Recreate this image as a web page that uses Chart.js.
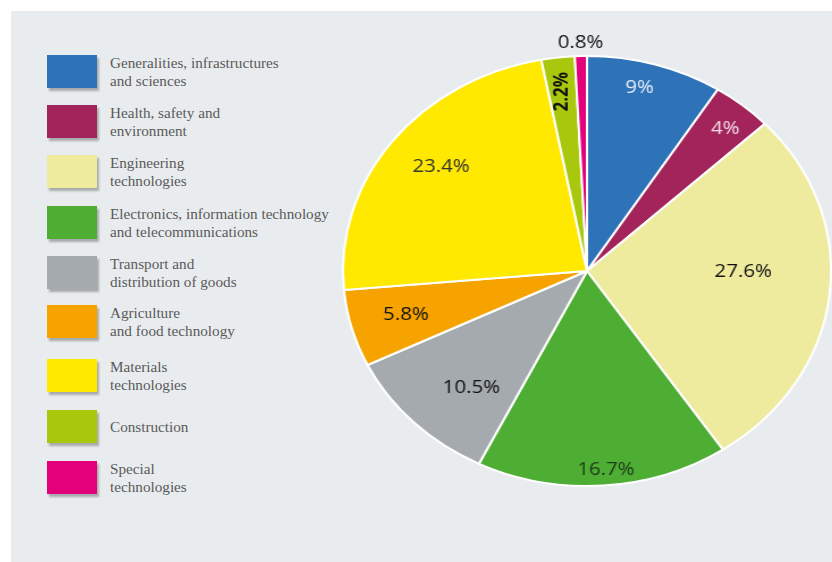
<!DOCTYPE html>
<html>
<head>
<meta charset="utf-8">
<script src="https://cdn.jsdelivr.net/npm/chart.js@4.4.1/dist/chart.umd.min.js"></script>
<style>
  html, body { margin: 0; padding: 0; background: #fff; }
  #page { position: relative; width: 832px; height: 562px; overflow: hidden; }
  #panel { position: absolute; left: 11px; top: 11px; right: 0; bottom: 0; background: #e9ecee; }
  #legend { position: absolute; left: 47px; top: 55px; font-family: "Liberation Serif", serif; font-size: 15.2px; color: #5a5a5a; }
  .item { position: absolute; left: 0; width: 320px; height: 34px; }
  .swatch { position: absolute; left: 0; top: 0; width: 50px; height: 33px; box-shadow: 2px 3px 2px rgba(0,0,0,0.28); }
  .text { position: absolute; left: 63px; top: 50%; transform: translateY(-50%); line-height: 18px; white-space: nowrap; }
  #pieBox { position: absolute; left: 347px; top: 31px; width: 480px; height: 480px; transform: scaleX(1.135); transform-origin: 50% 50%; }
</style>
</head>
<body>
<div id="page">
  <div id="panel"></div>
  <div id="legend"></div>
  <div id="pieBox"><canvas id="pie" width="480" height="480"></canvas></div>
</div>
<script>
const categories = [
  ['Generalities, infrastructures', 'and sciences'],
  ['Health, safety and', 'environment'],
  ['Engineering', 'technologies'],
  ['Electronics, information technology', 'and telecommunications'],
  ['Transport and', 'distribution of goods'],
  ['Agriculture', 'and food technology'],
  ['Materials', 'technologies'],
  ['Construction'],
  ['Special', 'technologies']
];
const shares = [9, 4, 27.6, 16.7, 10.5, 5.8, 23.4, 2.2, 0.8];
const valueLabels = ['9%', '4%', '27.6%', '16.7%', '10.5%', '5.8%', '23.4%', '2.2%', '0.8%'];

const colors = ['#2e72b8', '#a3245a', '#eeeb9e', '#4eae34', '#a4aaae', '#f6a300', '#ffe900', '#a9c70c', '#e2007b'];
const labelColors = ['#e6eef8', '#f1dbe5', '#111', '#1d3a18', '#111', '#111', '#333', '#111', '#111'];
// label distance from centre (fraction of radius) and angle nudge in degrees
const labelRadius = [0.88, 0.87, 0.64, 0.93, 0.72, 0.77, 0.77, 0.84, 1.06];
const labelShift = [-2, 1, -6, -1, -4, 0, 2, 0, 0];

// legend
const legend = document.getElementById('legend');
const legendTops = [0, 50, 100, 151, 201, 250, 304, 355, 406];
categories.forEach((lines, i) => {
  const item = document.createElement('div');
  item.className = 'item';
  item.style.top = legendTops[i] + 'px';
  item.innerHTML = '<div class="swatch" style="background:' + colors[i] + '"></div>' +
    '<div class="text">' + lines.join('<br>') + '</div>';
  legend.appendChild(item);
});

const sliceLabels = {
  id: 'sliceLabels',
  afterDatasetsDraw(chart) {
    const ctx = chart.ctx;
    const meta = chart.getDatasetMeta(0);
    ctx.save();
    ctx.textAlign = 'center';
    ctx.textBaseline = 'middle';
    meta.data.forEach((arc, i) => {
      const p = arc.getProps(['x', 'y', 'startAngle', 'endAngle', 'outerRadius'], true);
      const mid = (p.startAngle + p.endAngle) / 2 + labelShift[i] * Math.PI / 180;
      const r = p.outerRadius * labelRadius[i];
      const x = p.x + Math.cos(mid) * r;
      const y = p.y + Math.sin(mid) * r;
      ctx.fillStyle = labelColors[i];
      if (i === 7) {
        ctx.font = 'bold 17px "Open Sans", sans-serif';
        ctx.save();
        ctx.translate(x, y);
        ctx.rotate(-Math.PI / 2);
        ctx.fillText(valueLabels[i], 0, 0);
        ctx.restore();
      } else {
        ctx.font = '18px "Open Sans", sans-serif';
        ctx.fillText(valueLabels[i], x, y);
      }
    });
    ctx.restore();
  }
};

new Chart(document.getElementById('pie'), {
  type: 'pie',
  data: {
    labels: categories,
    datasets: [{
      data: shares,
      backgroundColor: colors,
      borderColor: '#ffffff',
      borderWidth: 2
    }]
  },
  options: {
    responsive: false,
    animation: false,
    layout: { padding: 24 },
    plugins: {
      legend: { display: false },
      tooltip: { enabled: false }
    }
  },
  plugins: [sliceLabels]
});
</script>
</body>
</html>
